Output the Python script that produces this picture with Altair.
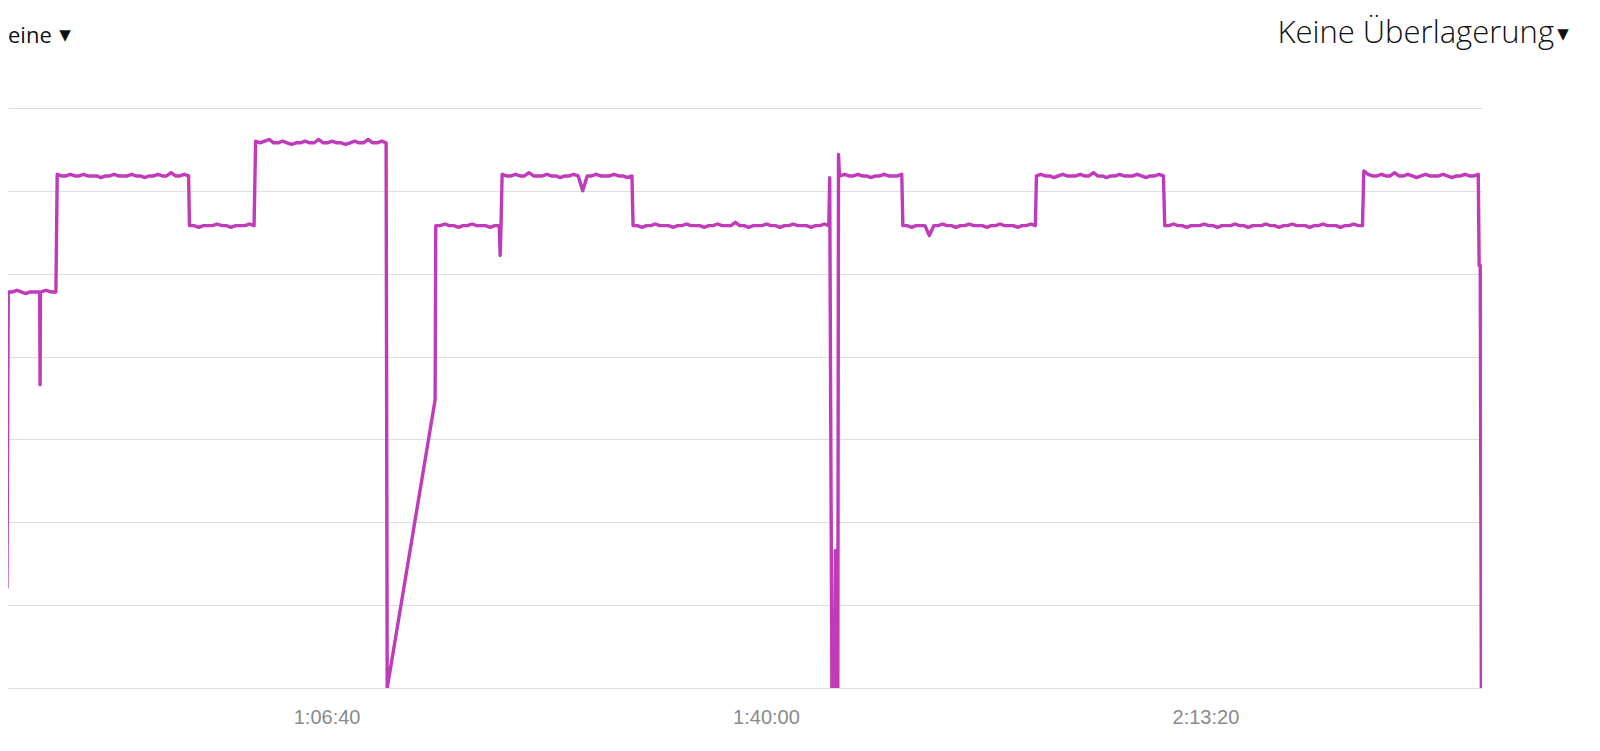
import altair as alt
import numpy as np
import pandas as pd

# ---- data (seconds, watts) ----
lead_t = [2545]
lead_w = [60]
A1 = [239, 239, 240, 239, 238, 239, 239, 239]
dip1_t = [2694, 2696, 2698]
dip1_w = [239, 183, 239]
A2 = [239, 240, 239, 239]
B1 = [310, 309, 309, 310, 309, 309, 310, 309, 309, 309, 308, 309, 309, 310, 309, 309,
      309, 310, 309, 309, 308, 309, 309, 310, 309, 309, 311, 309, 309, 310, 309]
C1 = [279, 279, 278, 279, 279, 279, 280, 279, 279, 278, 279, 279, 279, 280, 279]
D1 = [330, 329, 330, 331, 329, 329, 330, 329, 328, 329, 329, 330, 329, 329, 331, 329,
      329, 330, 329, 329, 328, 329, 330, 329, 329, 331, 329, 329, 330, 329]
drop1_t = [4276, 4494]
drop1_w = [0, 174]
C2 = [279, 279, 280, 279, 279, 278, 279, 279, 280, 279, 279, 279, 278, 279, 279]
dip2_t = [4790, 4794]
dip2_w = [261, 279]
B2 = [310, 309, 309, 310, 309, 309, 311, 309, 309, 309, 310, 309, 309, 308, 309, 309,
      310, 309, 300, 309, 309, 310, 309, 309, 309, 310, 309, 309, 308, 309]
C3 = [279, 279, 278, 279, 279, 280, 279, 279, 279, 278, 279, 279, 280, 279, 279, 279,
      278, 279, 279, 280, 279, 279, 279, 281, 279, 279, 278, 279, 279, 279, 280, 279,
      279, 278, 279, 279, 280, 279, 279, 279, 278, 279, 279, 280, 279]
spike_t = [6290, 6300, 6312, 6316, 6320, 6327, 6330, 6334]
spike_w = [308, 0, 0, 83, 0, 0, 322, 310]
B3 = [309, 310, 309, 309, 310, 309, 309, 308, 309, 309, 310, 309, 309, 309, 310]
C4 = [279, 279, 278, 279, 279, 279, 273, 279, 279, 280, 279, 279, 278, 279, 279, 280,
      279, 279, 279, 278, 279, 279, 280, 279, 279, 279, 278, 279, 279, 280, 279]
B4 = [309, 310, 309, 309, 308, 309, 310, 309, 309, 309, 310, 309, 309, 311, 309, 309,
      308, 309, 309, 310, 309, 309, 309, 310, 309, 308, 309, 309, 310, 309]
C5 = [279, 279, 280, 279, 279, 278, 279, 279, 279, 280, 279, 279, 278, 279, 279, 279,
      280, 279, 279, 278, 279, 279, 279, 280, 279, 279, 278, 279, 279, 280, 279, 279,
      279, 278, 279, 279, 280, 279, 279, 279, 278, 279, 279, 280, 279, 279]
B5 = [312, 310, 309, 309, 310, 309, 309, 311, 309, 309, 310, 309, 308, 309, 310, 309,
      309, 309, 310, 309, 308, 309, 309, 310, 309, 309, 310]
end_t = [9246, 9251, 9256]
end_w = [255, 255, 0]

# sampled segments: (start s, end s, values)
segments = [
    (2551, 2690, A1), (2700, 2768, A2), (2774, 3372, B1), (3376, 3670, C1),
    (3677, 4271, D1), (4497, 4786, C2), (4799, 5390, B2), (5395, 6286, C3),
    (6338, 6618, B3), (6623, 7226, C4), (7231, 7809, B4), (7815, 8715, C5),
    (8721, 9242, B5),
]
events = [(lead_t, lead_w), (dip1_t, dip1_w), (drop1_t, drop1_w), (dip2_t, dip2_w),
          (spike_t, spike_w), (end_t, end_w)]

tick_values = [4000, 6000, 8000]
tick_labels = ["1:06:40", "1:40:00", "2:13:20"]
grid_values = [0, 50, 100, 150, 200, 250, 300, 350]

rows_t, rows_w = [], []
for s, e, vals in segments:
    rows_t += list(np.linspace(s, e, len(vals)))
    rows_w += vals
for ts, ws in events:
    rows_t += ts
    rows_w += ws
df = pd.DataFrame({"t": rows_t, "w": rows_w}).sort_values("t")

label_expr = " : ".join(
    f"datum.value == {v} ? '{l}'" for v, l in zip(tick_values, tick_labels)
) + " : ''"

line = alt.Chart(df).mark_line(
    color="#BF3BBA", strokeWidth=3.4, clip=True, strokeJoin="round"
).encode(
    x=alt.X("t:Q", scale=alt.Scale(domain=[2550, 9259], nice=False, zero=False),
            axis=alt.Axis(values=tick_values, labelExpr=label_expr, title=None,
                          grid=False, ticks=False, tickSize=0, domain=False,
                          labelFont="Liberation Sans", labelFontSize=20,
                          labelColor="#8a8a8a", labelBaseline="alphabetic",
                          labelPadding=35, labelFlush=False)),
    y=alt.Y("w:Q", scale=alt.Scale(domain=[0, 350], nice=False),
            axis=alt.Axis(values=grid_values, labels=False, ticks=False, domain=False,
                          title=None, grid=True, gridColor="#dedede", gridWidth=1.2)),
)

def txt(label, x, y, size, weight, font, align, color="#111111"):
    return alt.Chart(pd.DataFrame({"s": [label]})).mark_text(
        align=align, baseline="alphabetic", fontSize=size, fontWeight=weight,
        font=font, color=color, clip=False
    ).encode(text="s:N", x=alt.value(x), y=alt.value(y))

right_label = txt("Keine Überlagerung", 1546, -65, 31, 300, "Open Sans", "right")
right_tri = txt("▼", 1555, -69, 15, 400, "DejaVu Sans", "center")
left_label = txt("eine", 0, -65, 22, 400, "Open Sans", "left")
left_tri = txt("▼", 57, -68, 15, 400, "DejaVu Sans", "center")

chart = alt.layer(line, right_label, right_tri, left_label, left_tri).properties(
    width=1474, height=580,
    autosize=alt.AutoSizeParams(type="none"),
    padding={"left": 0, "top": 100, "right": 100, "bottom": 45},
).configure(background="white").configure_view(strokeWidth=0, stroke="transparent")

chart.save("out.html", embed_options={"renderer": "svg", "actions": False})
